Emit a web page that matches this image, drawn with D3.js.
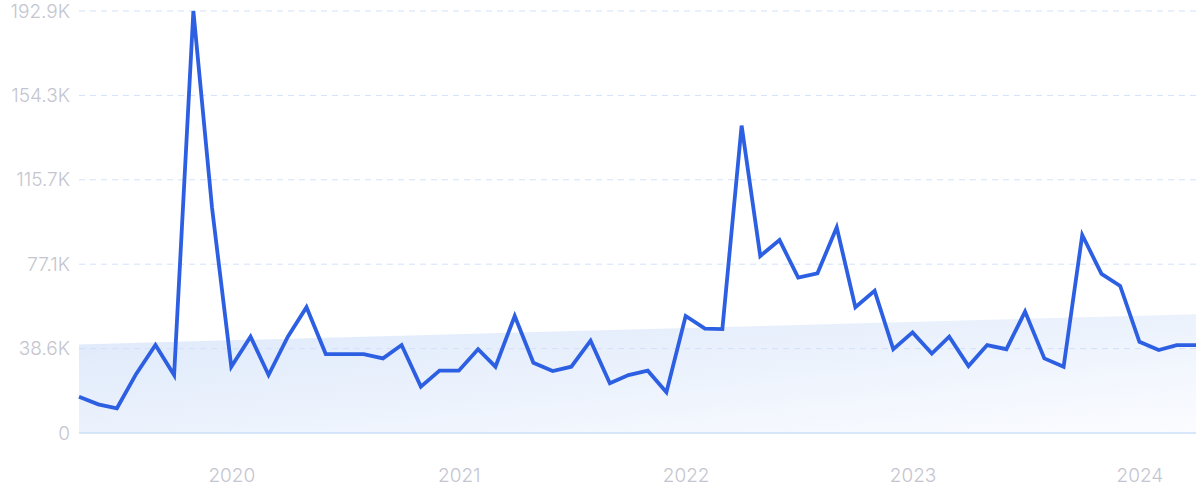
<!DOCTYPE html>
<html>
<head>
<meta charset="utf-8">
<script src="https://cdn.jsdelivr.net/npm/d3@7"></script>
<style>
  html, body { margin: 0; padding: 0; background: #ffffff; }
  svg { display: block; }
</style>
</head>
<body>
<svg id="chart" width="1200" height="499"></svg>
<script>
// Monthly values (thousands), May 2019 .. Apr 2024
const startMonth = "2019-05";
const values = [
  16.6, 13.1, 11.3, 27.0, 40.2, 26.5, 192.9, 103.0, 30.3, 44.0,
  26.5, 44.0, 57.5, 36.1, 36.1, 36.1, 34.1, 40.2, 21.2, 28.5,
  28.5, 38.3, 30.3, 53.5, 32.1, 28.3, 30.3, 42.2, 22.7, 26.5,
  28.5, 18.6, 53.5, 47.7, 47.5, 140.5, 80.9, 88.2, 71.0, 73.0,
  94.0, 57.5, 65.0, 38.3, 46.0, 36.3, 44.0, 30.6, 40.2, 38.3,
  55.5, 34.1, 30.3, 90.5, 72.7, 67.2, 41.7, 37.9, 40.2, 40.2
];
// Trend band (thousands) at first and last month
const trendStart = 40.5;
const trendEnd = 54.3;
// Y tick labels
const yTicks = [0, 38.58, 77.16, 115.74, 154.32, 192.9];
const yTickLabels = ["0", "38.6K", "77.1K", "115.7K", "154.3K", "192.9K"];
const xTickYears = [2020, 2021, 2022, 2023, 2024];

(function () {
const parse = d3.timeParse("%Y-%m");
const t0 = parse(startMonth);
const data = values.map((v, i) => ({ date: d3.timeMonth.offset(t0, i), value: v }));

const svg = d3.select("#chart");
const mLeft = 79, mRight = 1196, mTop = 11, mBottom = 433;

const x = d3.scaleTime()
  .domain([data[0].date, data[data.length - 1].date])
  .range([mLeft, mRight]);
const y = d3.scaleLinear()
  .domain([0, 192.9])
  .range([mBottom, mTop]);

const defs = svg.append("defs");
const grad = defs.append("linearGradient")
  .attr("id", "trendGrad")
  .attr("x1", "0%").attr("y1", "0%")
  .attr("x2", "100%").attr("y2", "100%");
grad.append("stop").attr("offset", "0%").attr("stop-color", "#dce8fa");
grad.append("stop").attr("offset", "100%").attr("stop-color", "#fbfcff");

const trendData = [
  { date: data[0].date, value: trendStart },
  { date: data[data.length - 1].date, value: trendEnd }
];
svg.append("path")
  .datum(trendData)
  .attr("fill", "url(#trendGrad)")
  .attr("d", d3.area().x(d => x(d.date)).y0(y(0)).y1(d => y(d.value)));

svg.append("g")
  .selectAll("line")
  .data(yTicks.slice(1))
  .join("line")
  .attr("x1", mLeft).attr("x2", mRight)
  .attr("y1", d => y(d)).attr("y2", d => y(d))
  .attr("stroke", "#d3e1fa")
  .attr("stroke-width", 1)
  .attr("stroke-dasharray", "6,5");

svg.append("line")
  .attr("x1", mLeft).attr("x2", mRight)
  .attr("y1", y(0)).attr("y2", y(0))
  .attr("stroke", "#cddff9")
  .attr("stroke-width", 1.5);

const yAxis = d3.axisLeft(y)
  .tickValues(yTicks)
  .tickFormat((d, i) => yTickLabels[i])
  .tickSize(0)
  .tickPadding(9);
const gy = svg.append("g").attr("transform", `translate(${mLeft},0)`).call(yAxis);
gy.select(".domain").remove();
gy.selectAll("text")
  .attr("fill", "#c4c5cf")
  .style("font-family", "Inter, 'Noto Sans', sans-serif")
  .style("font-weight", "300")
  .style("font-size", "19px");

const xAxis = d3.axisBottom(x)
  .tickValues(xTickYears.map(yr => new Date(yr, 0, 1)))
  .tickFormat(d3.timeFormat("%Y"))
  .tickSize(0)
  .tickPadding(0);
const gx = svg.append("g").attr("transform", `translate(0,${mBottom})`).call(xAxis);
gx.select(".domain").remove();
gx.selectAll("text")
  .attr("fill", "#c4c5cf")
  .attr("dy", "0")
  .attr("y", 49)
  .style("font-family", "Inter, 'Noto Sans', sans-serif")
  .style("font-weight", "300")
  .style("font-size", "19px");

svg.append("path")
  .datum(data)
  .attr("fill", "none")
  .attr("stroke", "#2d5fe3")
  .attr("stroke-width", 3.8)
  .attr("stroke-linejoin", "miter")
  .attr("d", d3.line().x(d => x(d.date)).y(d => y(d.value)));
})();
</script>
</body>
</html>
